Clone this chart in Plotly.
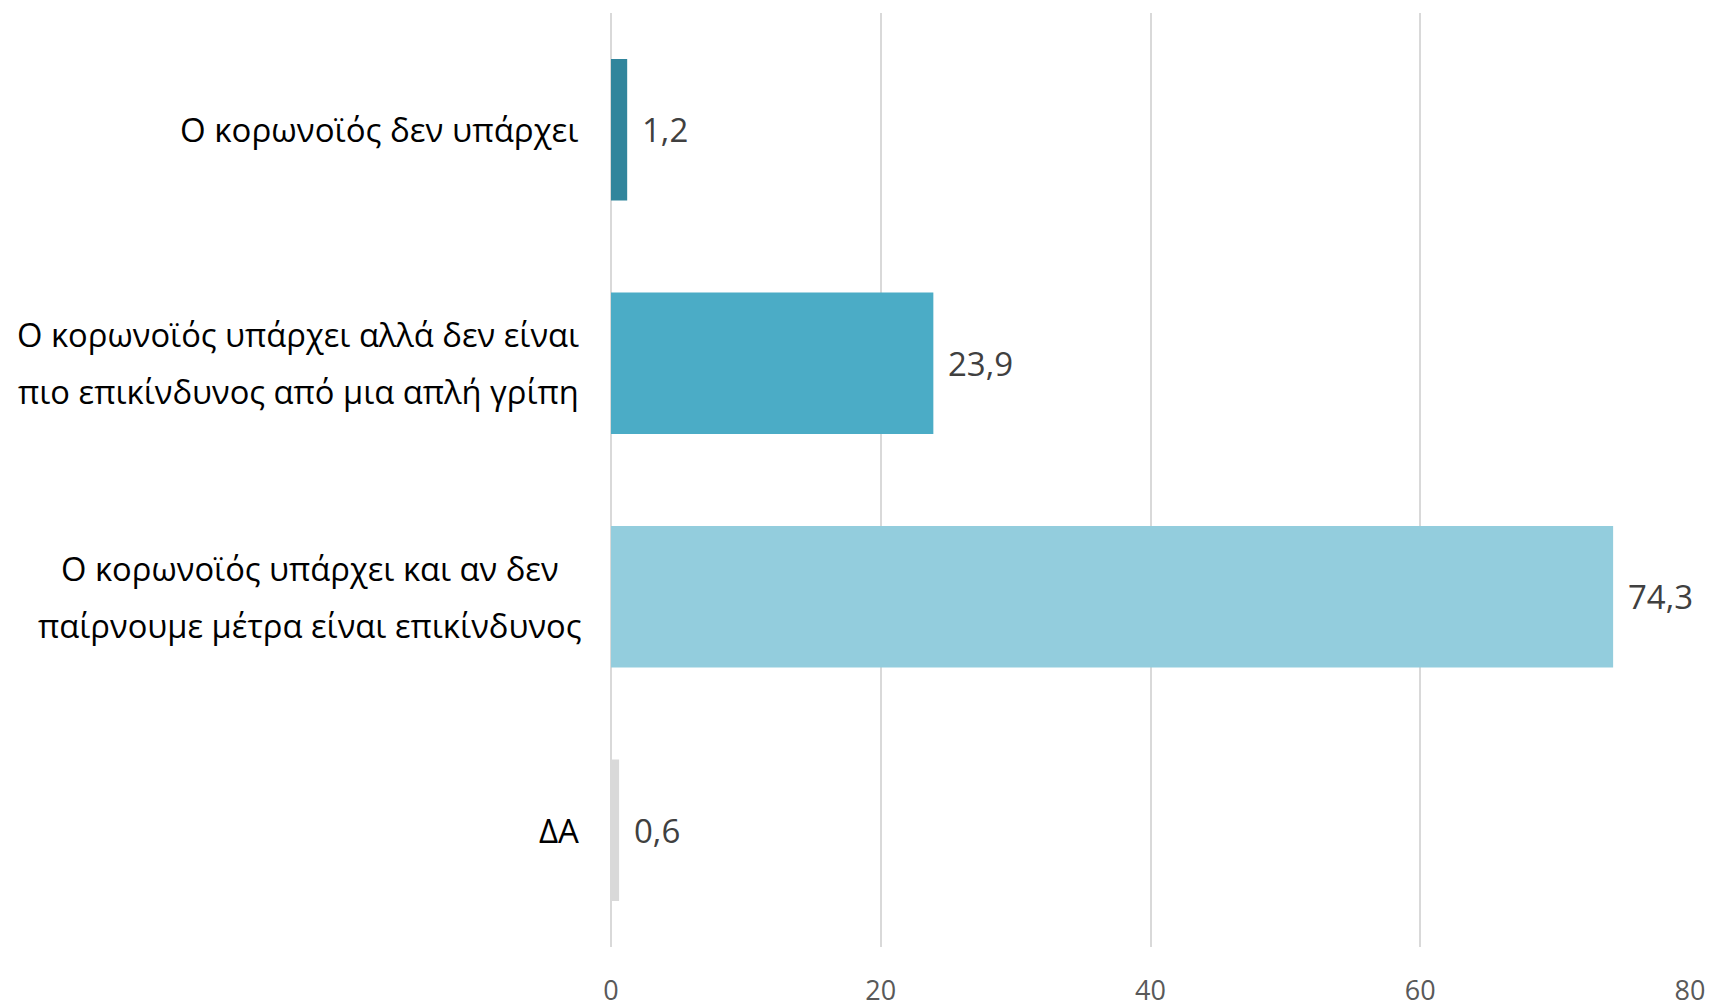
import plotly.graph_objects as go

categories = [
    "Ο κορωνοϊός δεν υπάρχει",
    "Ο κορωνοϊός υπάρχει αλλά δεν είναι<br>πιο επικίνδυνος από μια απλή γρίπη",
    "Ο κορωνοϊός υπάρχει και αν δεν<br>παίρνουμε μέτρα είναι επικίνδυνος",
    "ΔΑ",
]
values = [1.2, 23.9, 74.3, 0.6]
value_labels = ["1,2", "23,9", "74,3", "0,6"]
colors = ["#31859C", "#4BACC6", "#93CDDD", "#D9D9D9"]
x_ticks = [0, 20, 40, 60, 80]

FONT = "Open Sans"

# page body has an 8px margin in the exported html
W, H = 1709, 1000
L, R, T, B = 603, 27, 5, 61
plot_w = W - L - R

# centre (in page px) of each multi-line label block, per category
block_centres = {1: 298, 2: 310}

fig = go.Figure()
fig.add_trace(go.Bar(
    y=categories,
    x=values,
    orientation="h",
    marker=dict(color=colors, line=dict(width=0)),
    width=0.607,
    hoverinfo="skip",
))

annotations = []
for i, (cat, v, lab) in enumerate(zip(categories, values, value_labels)):
    annotations.append(dict(
        x=v, y=cat, xref="x", yref="y", text=lab, showarrow=False,
        xanchor="left", yanchor="middle", xshift=13,
        font=dict(family=FONT, size=33, color="#404040"),
    ))
    lines = cat.split("<br>")
    if len(lines) == 1:
        annotations.append(dict(
            x=0, y=cat, xref="paper", yref="y", text=cat, showarrow=False,
            xanchor="right", yanchor="middle", xshift=-30,
            font=dict(family=FONT, size=33, color="#000000"),
        ))
    else:
        cx = (block_centres[i] - 8 - L) / plot_w
        for j, line in enumerate(lines):
            annotations.append(dict(
                x=cx, y=cat, xref="paper", yref="y", text=line, showarrow=False,
                xanchor="center", yanchor="middle", yshift=28.5 - 57 * j,
                font=dict(family=FONT, size=32.7, color="#000000"),
            ))

fig.update_layout(
    width=W, height=H,
    margin=dict(l=L, r=R, t=T, b=B, pad=0, autoexpand=False),
    plot_bgcolor="white", paper_bgcolor="white",
    showlegend=False,
    annotations=annotations,
    xaxis=dict(
        range=[0, 80], tickvals=x_ticks, ticktext=[str(t) for t in x_ticks],
        showgrid=True, gridcolor="#D9D9D9", gridwidth=1.5,
        zeroline=True, zerolinecolor="#D9D9D9", zerolinewidth=1.5,
        showline=False, ticks="",
        tickfont=dict(family=FONT, size=27, color="#595959"),
        ticklabelstandoff=25,
        automargin=False,
        fixedrange=True,
    ),
    yaxis=dict(
        categoryorder="array", categoryarray=categories[::-1],
        showticklabels=False, showgrid=False, zeroline=False, ticks="",
        automargin=False,
        fixedrange=True,
    ),
    font=dict(family=FONT),
)

fig.write_html("out.html")
